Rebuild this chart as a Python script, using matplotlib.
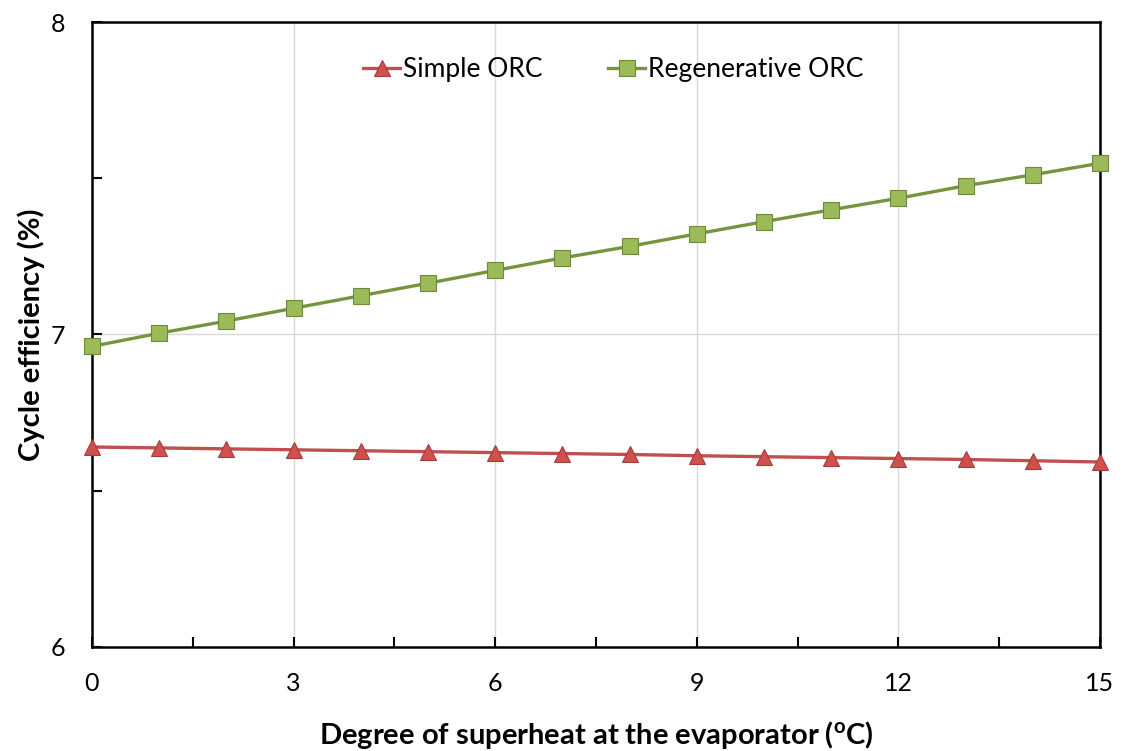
import numpy as np
import matplotlib
matplotlib.use("Agg")
import matplotlib.pyplot as plt
from matplotlib.ticker import MultipleLocator

plt.rcParams['font.family'] = ['Lato', 'DejaVu Sans']
plt.rcParams['mathtext.fontset'] = 'custom'
plt.rcParams['mathtext.rm'] = 'Lato'
plt.rcParams['mathtext.bf'] = 'Lato:bold'

# superheat (degC) and cycle efficiency (%)
superheat = [0, 1, 2, 3, 4, 5, 6, 7, 8, 9, 10, 11, 12, 13, 14, 15]
eff_simple = [6.640, 6.637, 6.634, 6.631, 6.628, 6.625, 6.622, 6.619,
              6.616, 6.612, 6.609, 6.606, 6.603, 6.600, 6.596, 6.592]
eff_regen = [6.962, 7.004, 7.043, 7.084, 7.124, 7.164, 7.205, 7.245,
             7.282, 7.322, 7.361, 7.399, 7.436, 7.476, 7.511, 7.548]

fig = plt.figure(figsize=(11.23, 7.51), dpi=100)
ax = fig.add_axes([0.0819, 0.1385, 0.8976, 0.8322])

ax.plot(superheat, eff_simple, color='#C0504D', lw=2.4, marker='^', ms=12,
        mfc='#D0504E', mec='#A33C3A', mew=0.8, label='Simple ORC', zorder=3,
        clip_on=False)
ax.plot(superheat, eff_regen, color='#77933C', lw=2.4, marker='s', ms=11,
        mfc='#9BBB59', mec='#6E8A38', mew=0.8, label='Regenerative ORC', zorder=3,
        clip_on=False)

ax.set_xlim(0, 15)
ax.set_ylim(6, 8)
ax.xaxis.set_major_locator(MultipleLocator(3))
ax.xaxis.set_minor_locator(MultipleLocator(1.5))
ax.yaxis.set_major_locator(MultipleLocator(1))
ax.yaxis.set_minor_locator(MultipleLocator(0.5))
ax.grid(True, which='major', color='#D9D9D9', lw=1)
ax.set_axisbelow(True)

ax.tick_params(which='both', direction='in', width=1.5, labelsize=18)
ax.tick_params(which='major', length=7)
ax.tick_params(which='minor', length=7)
ax.tick_params(axis='x', pad=18)
ax.tick_params(axis='y', pad=19)
for s in ax.spines.values():
    s.set_linewidth(1.8)

ax.set_xlabel(r'Degree of superheat at the evaporator ($\mathbf{^{o}}$C)',
              fontsize=21, fontweight='bold', labelpad=17)
ax.set_ylabel('Cycle efficiency (%)', fontsize=21, fontweight='bold', labelpad=4)

ax.legend(loc='upper center', bbox_to_anchor=(0.517, 0.982), ncol=2, frameon=False,
          fontsize=19, handlelength=1.4, handletextpad=0.1, columnspacing=2.5)

fig.savefig('out.png', dpi=100)
